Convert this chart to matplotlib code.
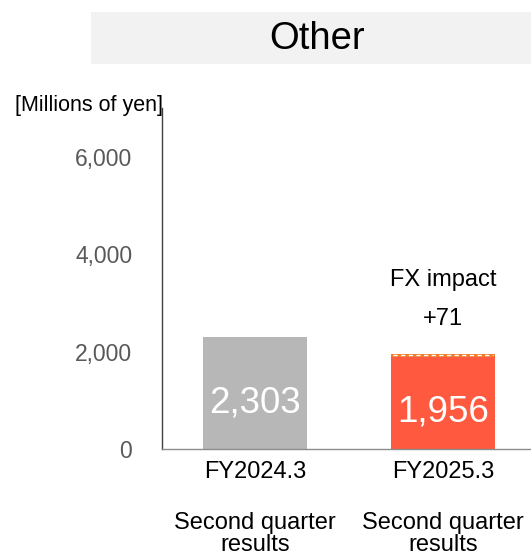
import matplotlib
matplotlib.use("Agg")
import matplotlib.pyplot as plt
from matplotlib.patches import Rectangle

plt.rcParams['font.family'] = ['Liberation Sans', 'DejaVu Sans']

# Data
categories = ["FY2024.3", "FY2025.3"]
periods = ["Second quarter\nresults", "Second quarter\nresults"]
values = [2303, 1956]
fx_impact = 71
bar_colors = ["#B7B7B7", "#FF5A40"]
fx_color = "#F07D2E"
y_ticks = [0, 2000, 4000, 6000]
y_tick_labels = ["0", "2,000", "4,000", "6,000"]
title = "Other"
unit_label = "[Millions of yen]"

W, H = 531, 558
fig = plt.figure(figsize=(W / 100, H / 100), dpi=100)

# Title band
fig.patches.append(Rectangle((91 / W, 1 - 64 / H), (W - 91) / W, 52 / H,
                             transform=fig.transFigure, facecolor="#F2F2F2",
                             edgecolor="none", zorder=0))
fig.text(317 / W, 1 - 39 / H, title, ha="center", va="center",
         fontsize=27.5, color="black")

ax = fig.add_axes([162 / W, 1 - 449 / H, (W - 162) / W, (449 - 108) / H])
x = list(range(len(categories)))
width = 0.553

# Bars; the FX portion sits at the top of the current-year bar
base = [values[0], values[1] - fx_impact]
ax.bar(x, base, width=width, color=bar_colors, edgecolor="none", zorder=2)
ax.bar(x[1], fx_impact, bottom=base[1], width=width, color=fx_color,
       edgecolor="none", zorder=2)
ax.hlines(base[1] + fx_impact / 2, x[1] - width / 2 + 0.01, x[1] + width / 2 - 0.01,
          colors="white", linestyles=(0, (3, 2.5)), linewidth=1.0, zorder=3)

# Value labels inside bars
label_pos = [0.41, 0.39]
for xi, v, f in zip(x, values, label_pos):
    ax.text(xi, v * f, f"{v:,}", ha="center", va="center",
            color="white", fontsize=26.5, zorder=4)

# FX impact annotation
ax.annotate("FX impact", xy=(x[1], values[1]), xytext=(0, 53),
            textcoords="offset points", ha="center", va="center", fontsize=17)
ax.annotate(f"+{fx_impact}", xy=(x[1], values[1]), xytext=(0, 25),
            textcoords="offset points", ha="center", va="center", fontsize=17)

ax.set_xlim(-0.495, 1.468)
ax.set_ylim(0, 7000)
ax.set_yticks(y_ticks)
ax.set_yticklabels(y_tick_labels, fontsize=16.5, color="#595959")
ax.set_xticks(x)
ax.set_xticklabels(categories, fontsize=17, color="black")
ax.tick_params(axis="y", length=0, pad=21.5)
ax.tick_params(axis="x", length=0, pad=9)

for xi, p in zip(x, periods):
    ax.annotate(p, xy=(xi, 0), xycoords=("data", "axes fraction"),
                xytext=(0, -61), textcoords="offset points",
                ha="center", va="center", fontsize=17, linespacing=0.98,
                annotation_clip=False)

ax.spines["top"].set_visible(False)
ax.spines["right"].set_visible(False)
ax.spines["left"].set_color("#404040")
ax.spines["left"].set_linewidth(1.0)
ax.spines["bottom"].set_color("#8C8C8C")
ax.spines["bottom"].set_linewidth(1.0)
ax.set_facecolor("none")

fig.text(163 / W, 1 - 105 / H, unit_label, ha="right", va="center",
         fontsize=15.5, color="black")

fig.savefig("out.png", dpi=100)
